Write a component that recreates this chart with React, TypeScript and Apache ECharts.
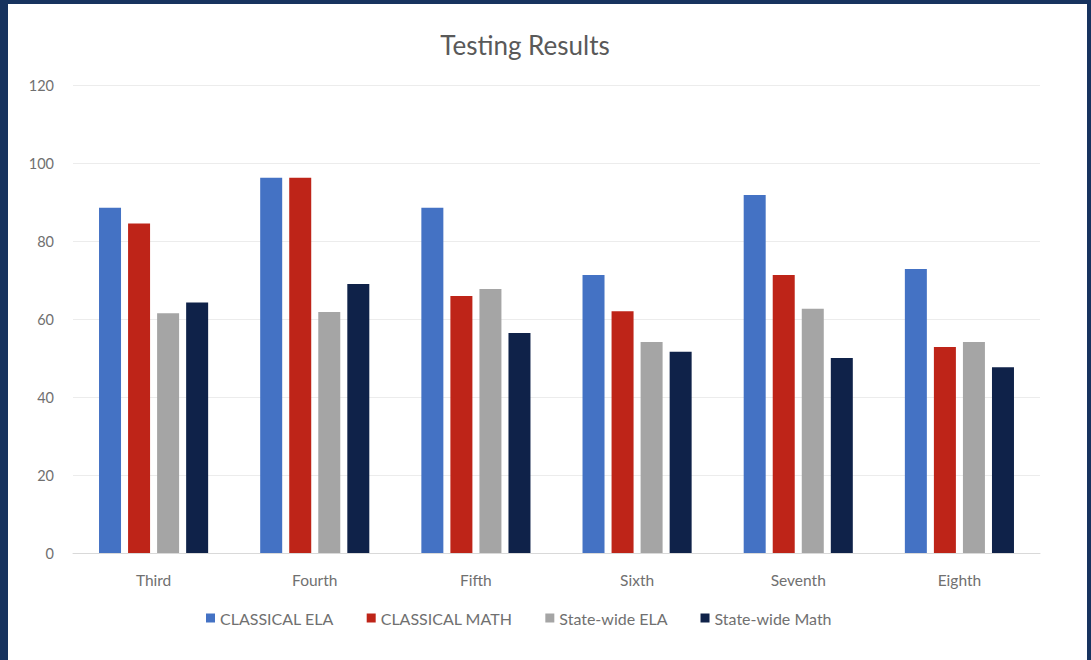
import React, { useEffect, useRef } from "react";
import * as echarts from "echarts";

const categories = ["Third", "Fourth", "Fifth", "Sixth", "Seventh", "Eighth"];
const classicalEla = [88.5, 96.2, 88.5, 71.3, 91.8, 72.8];
const classicalMath = [84.5, 96.2, 65.9, 62.0, 71.3, 52.8];
const statewideEla = [61.5, 61.8, 67.7, 54.1, 62.6, 54.1];
const statewideMath = [64.2, 69.0, 56.4, 51.6, 50.0, 47.6];
const seriesNames = ["CLASSICAL ELA", "CLASSICAL MATH", "State-wide ELA", "State-wide Math"];
const colors = ["#4472C4", "#BE2418", "#A5A5A5", "#0F2249"];

export default function App() {
  const ref = useRef<HTMLDivElement>(null);
  useEffect(() => {
    if (!ref.current) return;
    const chart = echarts.init(ref.current, null, { renderer: "svg" });
    const font = "Lato, 'Open Sans', sans-serif";
    const data = [classicalEla, classicalMath, statewideEla, statewideMath];
    chart.setOption({
      animation: false,
      backgroundColor: "#ffffff",
      color: colors,
      textStyle: { fontFamily: font },
      title: {
        text: "Testing Results",
        left: 512,
        top: 23,
        textAlign: "center",
        textStyle: { fontFamily: font, fontSize: 26, fontWeight: "normal", color: "#595959" },
      },
      legend: {
        data: seriesNames,
        top: 601,
        left: 193,
        itemWidth: 9,
        itemHeight: 9,
        itemGap: 33,
        icon: "rect",
        textStyle: { fontFamily: font, fontSize: 16, color: "#707070" },
      },
      grid: { left: 65, right: 47, top: 81, bottom: 107, containLabel: false },
      xAxis: {
        type: "category",
        data: categories,
        axisLine: { show: true, lineStyle: { color: "#d9d9d9" } },
        axisTick: { show: false },
        axisLabel: { margin: 19, fontSize: 15.5, color: "#707070", fontFamily: font },
      },
      yAxis: {
        type: "value",
        min: 0,
        max: 120,
        interval: 20,
        axisLine: { show: false },
        axisTick: { show: false },
        axisLabel: { margin: 19, fontSize: 14.5, color: "#707070", fontFamily: font },
        splitLine: { lineStyle: { color: "#ececec" } },
      },
      series: seriesNames.map((name, i) => ({
        name,
        type: "bar",
        data: data[i],
        barWidth: 22,
        barGap: "32%",
        itemStyle: { color: colors[i] },
      })),
    });
    return () => chart.dispose();
  }, []);
  return (
    <div style={{ position: "fixed", left: 0, top: 0, width: 1091, height: 660, background: "#17335F" }}>
      <div ref={ref} style={{ position: "absolute", left: 8, top: 4, width: 1079, height: 656 }} />
    </div>
  );
}
